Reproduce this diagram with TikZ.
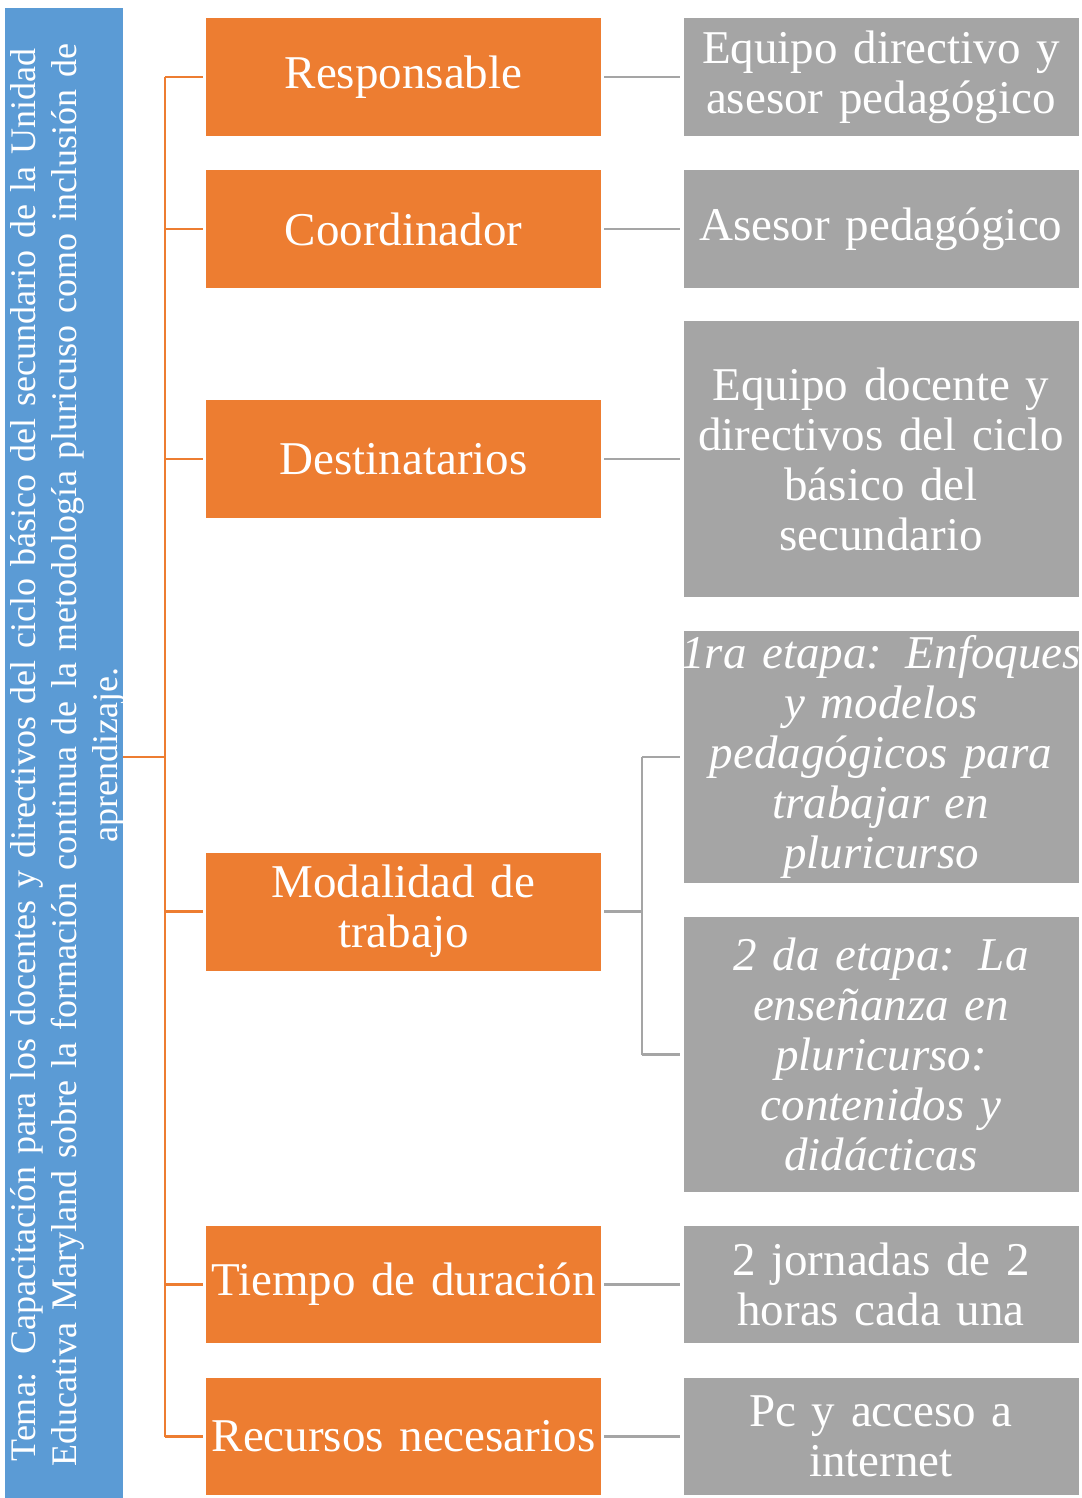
\documentclass[tikz,border=0pt]{standalone}
\usepackage{fontspec}
\setmainfont[WordSpace=0.9]{Liberation Serif}
\definecolor{blu}{HTML}{5B9BD5}
\definecolor{org}{HTML}{ED7D31}
\definecolor{gry}{HTML}{A5A5A5}
\begin{document}
\begin{tikzpicture}[x=1pt,y=-1pt,
  box/.style={draw=none, inner sep=0pt, text=white, align=center,
    minimum width=395pt, text width=395pt, font=\fontsize{47}{50}\selectfont},
  ob/.style={box, fill=org, minimum height=118pt},
  gb/.style={box, fill=gry},
  oline/.style={draw=org, line width=2.5pt},
  gline/.style={draw=gry, line width=2.5pt}]
\useasboundingbox (0,0) rectangle (1081,1498);
\fill[white] (0,0) rectangle (1081,1498);

\node[fill=blu, inner sep=0pt, minimum width=118pt, minimum height=1490pt]
  (blue) at (64,753) {};
\node[inner sep=0pt, rotate=90, text width=1480pt, align=center, text=white,
  font=\fontsize{36}{41}\selectfont] (bluetext) at (68,755)
  {Tema: Capacitación para los docentes y directivos del ciclo básico del secundario de la Unidad\\
   Educativa Maryland sobre la formación continua de la metodología pluricuso como inclusión de\\
   aprendizaje.};

\node[ob] (resp) at (403.5,77) {Responsable};
\node[ob] (coor) at (403.5,229) {Coordinador};
\node[ob] (dest) at (403.5,459) {Destinatarios};
\node[ob] (moda) at (403.5,911.5) {Modalidad de\\ trabajo};
\node[ob, minimum height=117pt] (tiem) at (403.5,1284.5) {Tiempo de duración};
\node[ob, minimum height=117pt] (recu) at (403.5,1436.5) {Recursos necesarios};

\node[gb, minimum height=118pt] (g1) at (881,77) {Equipo directivo y\\ asesor pedagógico};
\node[gb, minimum height=118pt] (g2) at (881,229) {Asesor pedagógico};
\node[gb, minimum height=276pt] (g3) at (881,459) {Equipo docente y\\ directivos del ciclo\\ básico del\\ secundario};
\node[gb, minimum height=252pt, font=\fontsize{47}{50}\selectfont\itshape] (g4) at (881,757)
  {\makebox[395pt]{1ra etapa: Enfoques}\\ y modelos\\ pedagógicos para\\ trabajar en\\ pluricurso};
\node[gb, minimum height=275pt, font=\fontsize{47}{50}\selectfont\itshape] (g5) at (881,1054.5)
  {2 da etapa: La\\ enseñanza en\\ pluricurso:\\ contenidos y\\ didácticas};
\node[gb, minimum height=117pt] (g6) at (881,1284.5) {2 jornadas de 2\\ horas cada una};
\node[gb, minimum height=117pt] (g7) at (881,1436.5) {Pc y acceso a\\ internet};

% orange tree
\coordinate (trunk) at (165,757);
\draw[oline] (blue.east |- trunk) -- (trunk);
\draw[oline] (trunk |- resp.west) -- (trunk |- recu.west);
\foreach \n in {resp,coor,dest,moda,tiem,recu}
  \draw[oline, shorten >=3pt] (trunk |- \n.west) -- (\n.west);

% grey connectors
\draw[gline, shorten <=3pt, shorten >=3pt] (resp.east) -- (g1.west);
\draw[gline, shorten <=3pt, shorten >=3pt] (coor.east) -- (g2.west);
\draw[gline, shorten <=3pt, shorten >=3pt] (dest.east) -- (g3.west);
\draw[gline, shorten <=3pt, shorten >=3pt] (tiem.east) -- (g6.west);
\draw[gline, shorten <=3pt, shorten >=3pt] (recu.east) -- (g7.west);
\coordinate (gtrunk) at (642,911.5);
\draw[gline, shorten <=3pt] (moda.east) -- (gtrunk);
\draw[gline] (gtrunk |- g4.west) -- (gtrunk |- g5.west);
\draw[gline, shorten >=3pt] (gtrunk |- g4.west) -- (g4.west);
\draw[gline, shorten >=3pt] (gtrunk |- g5.west) -- (g5.west);
\end{tikzpicture}
\end{document}
